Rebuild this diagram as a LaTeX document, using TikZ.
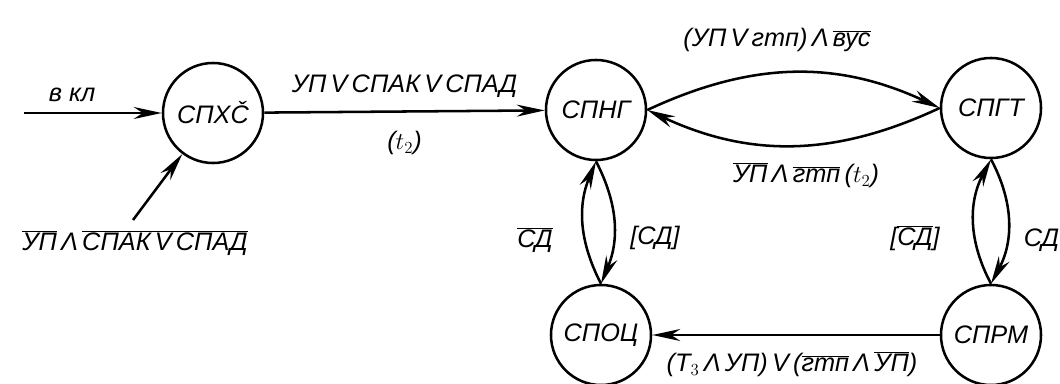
\documentclass[tikz,border=0pt]{standalone}
\usepackage{fontspec}
\setmainfont{Liberation Sans}
\usetikzlibrary{arrows.meta}
\begin{document}
\begin{tikzpicture}[x=0.025cm, y=0.025cm, line width=1.8pt, line join=round, >={Stealth[length=7mm,width=3mm]},
  font=\fontsize{18}{21}\selectfont\itshape,
  state/.style={draw, circle, minimum size=2.5cm, inner sep=0pt}]
\def\ol#1{$\overline{\mbox{#1}}$}
\def\und{\,Λ\,}\def\oder{\,V\,}
\useasboundingbox (0,0) rectangle (1060,383);
% states
\node[state] (sphs) at (213,270) {СПХČ};
\node[state] (sphg) at (596,273) {СПНГ};
\node[state] (spgt) at (991,275) {СПГТ};
\node[state] (spoc) at (601,48) {СПОЦ};
\node[state] (sprm) at (991,48) {СПРМ};
% inputs
\coordinate (vkl) at (24,270);
\coordinate (yp) at (133,163);
\draw[->] (vkl) -- (sphs) node[pos=0.35, above=4pt] {в кл};
\draw[->] (yp) -- (sphs);
\node (ypl) at (135,140) {\ol{УП}\und\ol{СПАК\oder СПАД}};
% transitions
\draw[->] (sphs) -- (sphg) node[midway, above=6pt] {УП\oder СПАК\oder СПАД} node[midway, below=10pt] {($t_2$)};
\draw[->] (sphg.east) to[out=25, in=155] (spgt.west);
\node (ngt) at (777,343) {(УП\oder гтп)\und\ol{вус}};
\draw[->] (spgt.west) to[out=205, in=-25] (sphg.east);
\node (gtn) at (806,208) {\ol{УП}\und\ol{гтп}\,($t_2$)};
\draw[->] (spoc.north) to[bend left=25] (sphg.south);
\draw[->] (sphg.south) to[bend left=25] (spoc.north);
\node (ocng) at (535,143) {\ol{СД}};
\node (ngoc) at (655,145) {[СД]};
\draw[->] (sprm.north) to[bend left=28] (spgt.south);
\draw[->] (spgt.south) to[bend left=28] (sprm.north);
\node (rmgt) at (915,145) {[\ol{СД}]};
\node[anchor=west] (gtrm) at (1018,143) {СД};
\draw[->] (sprm) -- (spoc);
\node (rmoc) at (792,19) {(T$_3$\und УП)\oder(\ol{гтп}\und\ol{УП})};
\end{tikzpicture}
\end{document}
